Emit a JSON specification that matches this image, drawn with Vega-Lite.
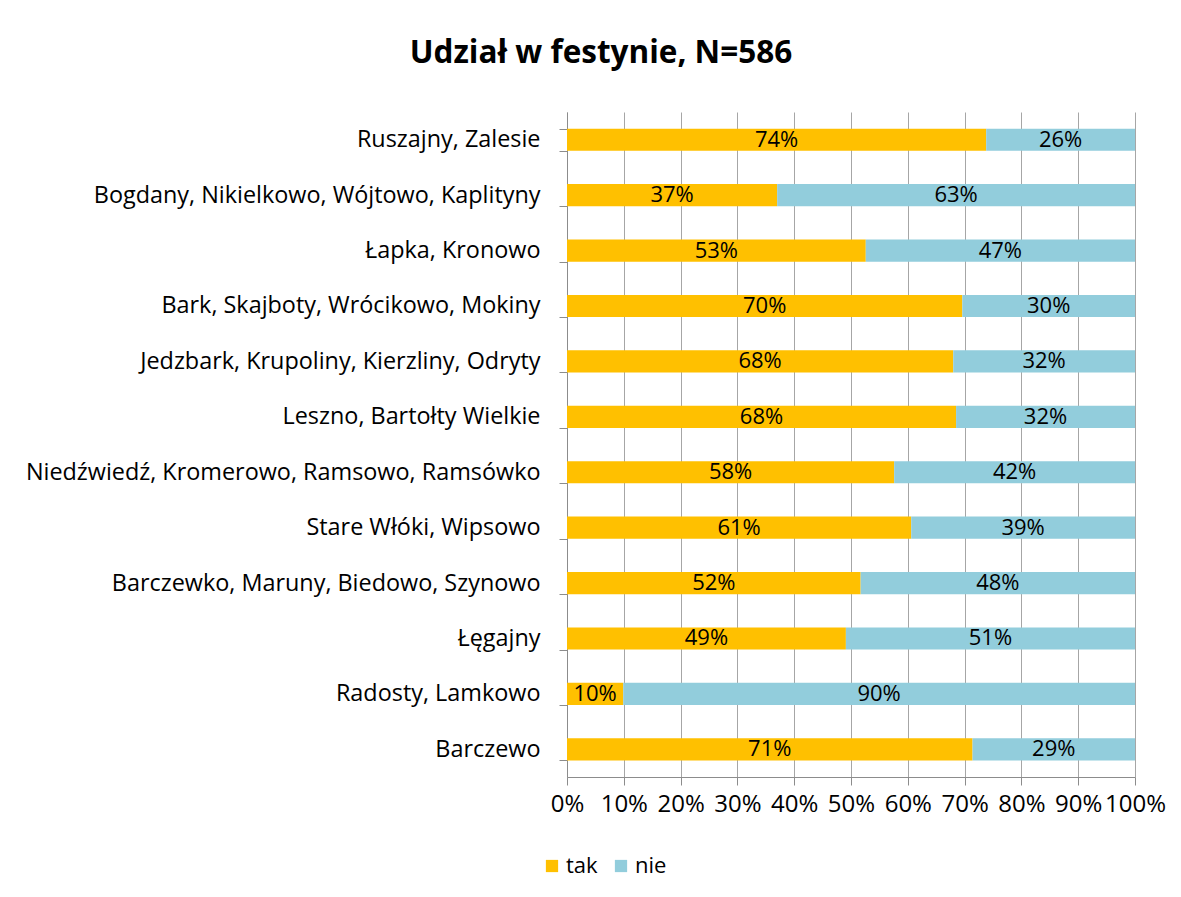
{
  "$schema": "https://vega.github.io/schema/vega-lite/v6.json",
  "width": 568,
  "height": 665,
  "autosize": {"type": "none"},
  "padding": {"left": 567, "top": 112, "right": 46, "bottom": 120},
  "background": "white",
  "title": {"text": "Udział w festynie, N=586", "font": "Open Sans", "fontSize": 31.5, "fontWeight": "bold", "color": "#000000", "anchor": "middle", "frame": "group", "dx": -250, "offset": 31},
  "config": {"view": {"stroke": null}},
  "data": {"values": [
    {"wies": "Ruszajny, Zalesie", "idx": 1, "odp": "tak", "o": 0, "v": 73.8, "lab": "74%"},
    {"wies": "Ruszajny, Zalesie", "idx": 1, "odp": "nie", "o": 1, "v": 26.2, "lab": "26%"},
    {"wies": "Bogdany, Nikielkowo, Wójtowo, Kaplityny", "idx": 2, "odp": "tak", "o": 0, "v": 37.0, "lab": "37%"},
    {"wies": "Bogdany, Nikielkowo, Wójtowo, Kaplityny", "idx": 2, "odp": "nie", "o": 1, "v": 63.0, "lab": "63%"},
    {"wies": "Łapka, Kronowo", "idx": 3, "odp": "tak", "o": 0, "v": 52.6, "lab": "53%"},
    {"wies": "Łapka, Kronowo", "idx": 3, "odp": "nie", "o": 1, "v": 47.4, "lab": "47%"},
    {"wies": "Bark, Skajboty, Wrócikowo, Mokiny", "idx": 4, "odp": "tak", "o": 0, "v": 69.6, "lab": "70%"},
    {"wies": "Bark, Skajboty, Wrócikowo, Mokiny", "idx": 4, "odp": "nie", "o": 1, "v": 30.4, "lab": "30%"},
    {"wies": "Jedzbark, Krupoliny, Kierzliny, Odryty", "idx": 5, "odp": "tak", "o": 0, "v": 68.0, "lab": "68%"},
    {"wies": "Jedzbark, Krupoliny, Kierzliny, Odryty", "idx": 5, "odp": "nie", "o": 1, "v": 32.0, "lab": "32%"},
    {"wies": "Leszno, Bartołty Wielkie", "idx": 6, "odp": "tak", "o": 0, "v": 68.5, "lab": "68%"},
    {"wies": "Leszno, Bartołty Wielkie", "idx": 6, "odp": "nie", "o": 1, "v": 31.5, "lab": "32%"},
    {"wies": "Niedźwiedź, Kromerowo, Ramsowo, Ramsówko", "idx": 7, "odp": "tak", "o": 0, "v": 57.6, "lab": "58%"},
    {"wies": "Niedźwiedź, Kromerowo, Ramsowo, Ramsówko", "idx": 7, "odp": "nie", "o": 1, "v": 42.4, "lab": "42%"},
    {"wies": "Stare Włóki, Wipsowo", "idx": 8, "odp": "tak", "o": 0, "v": 60.6, "lab": "61%"},
    {"wies": "Stare Włóki, Wipsowo", "idx": 8, "odp": "nie", "o": 1, "v": 39.4, "lab": "39%"},
    {"wies": "Barczewko, Maruny, Biedowo, Szynowo", "idx": 9, "odp": "tak", "o": 0, "v": 51.7, "lab": "52%"},
    {"wies": "Barczewko, Maruny, Biedowo, Szynowo", "idx": 9, "odp": "nie", "o": 1, "v": 48.3, "lab": "48%"},
    {"wies": "Łęgajny", "idx": 10, "odp": "tak", "o": 0, "v": 49.1, "lab": "49%"},
    {"wies": "Łęgajny", "idx": 10, "odp": "nie", "o": 1, "v": 50.9, "lab": "51%"},
    {"wies": "Radosty, Lamkowo", "idx": 11, "odp": "tak", "o": 0, "v": 9.9, "lab": "10%"},
    {"wies": "Radosty, Lamkowo", "idx": 11, "odp": "nie", "o": 1, "v": 90.1, "lab": "90%"},
    {"wies": "Barczewo", "idx": 12, "odp": "tak", "o": 0, "v": 71.4, "lab": "71%"},
    {"wies": "Barczewo", "idx": 12, "odp": "nie", "o": 1, "v": 28.6, "lab": "29%"}
  ]},
  "encoding": {
    "y": {
      "field": "wies", "type": "nominal", "sort": {"field": "idx"},
      "scale": {"paddingInner": 0.6, "paddingOuter": 0.3},
      "axis": {"title": null, "tickBand": "extent", "tickSize": 8, "tickColor": "#8c8c8c", "domainColor": "#8c8c8c", "labelFont": "Open Sans", "labelFontSize": 23.4, "labelColor": "#000000", "labelPadding": 19, "labelLimit": 600, "grid": false}
    },
    "order": {"field": "o", "type": "quantitative"}
  },
  "layer": [
    {
      "mark": {"type": "bar"},
      "encoding": {
        "x": {"field": "v", "type": "quantitative", "stack": "zero",
          "scale": {"domain": [0, 100], "nice": false},
          "axis": {"title": null, "values": [0,10,20,30,40,50,60,70,80,90,100], "labelExpr": "datum.value + '%'", "grid": true, "gridColor": "#a6a6a6", "domainColor": "#8c8c8c", "tickColor": "#8c8c8c", "tickSize": 8, "labelFont": "Open Sans", "labelFontSize": 24, "labelColor": "#000000", "labelPadding": 7, "labelFlush": false}},
        "color": {"field": "odp", "type": "nominal",
          "scale": {"domain": ["tak", "nie"], "range": ["#FFC000", "#92CDDC"]},
          "legend": {"title": null, "orient": "none", "legendX": -26, "legendY": 743, "direction": "horizontal", "symbolType": "square", "symbolSize": 150, "symbolStrokeWidth": 0, "labelFont": "Open Sans", "labelFontSize": 22, "labelColor": "#000000", "columnPadding": 12, "labelOffset": 3}}
      }
    },
    {
      "mark": {"type": "text", "font": "Open Sans", "fontSize": 22, "color": "#000000", "baseline": "middle"},
      "encoding": {
        "x": {"field": "v", "type": "quantitative", "stack": "zero", "bandPosition": 0.5},
        "text": {"field": "lab"}
      }
    }
  ]
}
